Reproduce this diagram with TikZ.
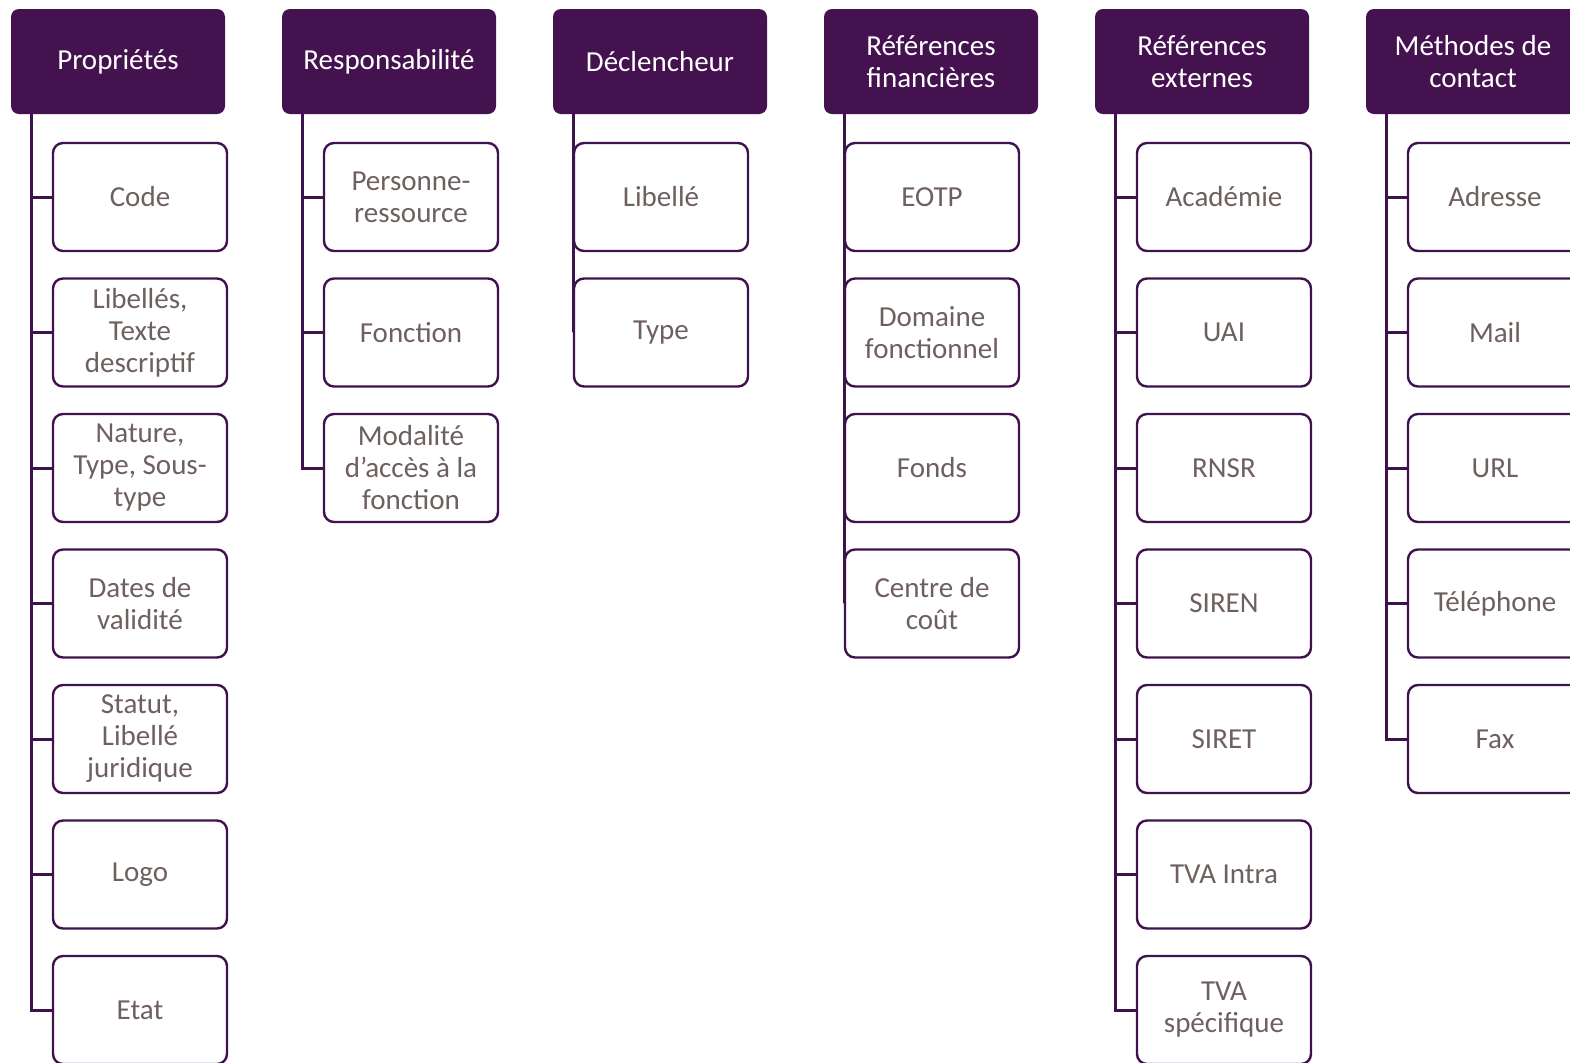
\documentclass[tikz,border=0pt]{standalone}
\usepackage{fontspec}
\setmainfont{Carlito}
\usetikzlibrary{trees}
\definecolor{headfill}{HTML}{43124F}
\definecolor{linecol}{HTML}{3E124C}
\definecolor{itemtext}{HTML}{6F6060}
\tikzset{
  header/.style={rectangle, rounded corners=4pt, fill=headfill, text=white,
    minimum width=107pt, minimum height=52.5pt, inner sep=0pt, align=center},
  item/.style={rectangle, rounded corners=5pt, draw=linecol, line width=1.2pt,
    fill=white, text=itemtext, minimum width=87pt, minimum height=54pt,
    inner sep=0pt, align=center},
  attrlist/.style={
    grow via three points={one child at (#1,-67.75pt) and
      two children at (#1,-67.75pt) and (#1,-135.5pt)},
    every child node/.style={item},
    edge from parent/.style={draw=linecol, line width=1.5pt},
    edge from parent path={([xshift=10.5pt]\tikzparentnode.south west)
      |- (\tikzchildnode.west)}},
  attrlist/.default=11pt
}

\begin{document}
\begin{tikzpicture}[font=\fontsize{14.5}{16}\selectfont]
    \clip (0,0) rectangle (785pt,-531pt);
    % Propriétés
    \node[header] (prop) at (59pt,-30.75pt) {Propriétés} [attrlist]
    child{node (code) {Code}}
    child{node (libelles) {Libellés,\\Texte\\descriptif}}
    child{node (nature) {Nature,\\Type, Sous-\\type}}
    child{node (dates) {Dates de\\validité}}
    child{node (statut) {Statut,\\Libellé\\juridique}}
    child{node (logo) {Logo}}
    child{node (etat) {Etat}}
    ;
    % Responsabilité
    \node[header] (resp) at (194.5pt,-30.75pt) {Responsabilité} [attrlist]
    child{node (personne) {Personne-\\ressource}}
    child{node (fonction) {Fonction}}
    child{node (modalite) {Modalité\\d’accès à la\\fonction}}
    ;
    % Déclencheur
    \node[header] (decl) at (330pt,-30.75pt) {Déclencheur} [attrlist=0.5pt]
    child{node (libelle) {Libellé}}
    child{node (type) {Type}}
    ;
    % Références financières
    \node[header] (reffin) at (465.5pt,-30.75pt) {Références\\financières} [attrlist=0.5pt]
    child{node (eotp) {EOTP}}
    child{node (domaine) {Domaine\\fonctionnel}}
    child{node (fonds) {Fonds}}
    child{node (centre) {Centre de\\coût}}
    ;
    % Références externes
    \node[header] (refext) at (601pt,-30.75pt) {Références\\externes} [attrlist]
    child{node (academie) {Académie}}
    child{node (uai) {UAI}}
    child{node (rnsr) {RNSR}}
    child{node (siren) {SIREN}}
    child{node (siret) {SIRET}}
    child{node (tvaintra) {TVA Intra}}
    child{node (tvaspec) {TVA\\spécifique}}
    ;
    % Méthodes de contact
    \node[header] (contact) at (736.5pt,-30.75pt) {Méthodes de\\contact} [attrlist]
    child{node (adresse) {Adresse}}
    child{node (mail) {Mail}}
    child{node (url) {URL}}
    child{node (tel) {Téléphone}}
    child{node (fax) {Fax}}
    ;
\end{tikzpicture}
\end{document}
